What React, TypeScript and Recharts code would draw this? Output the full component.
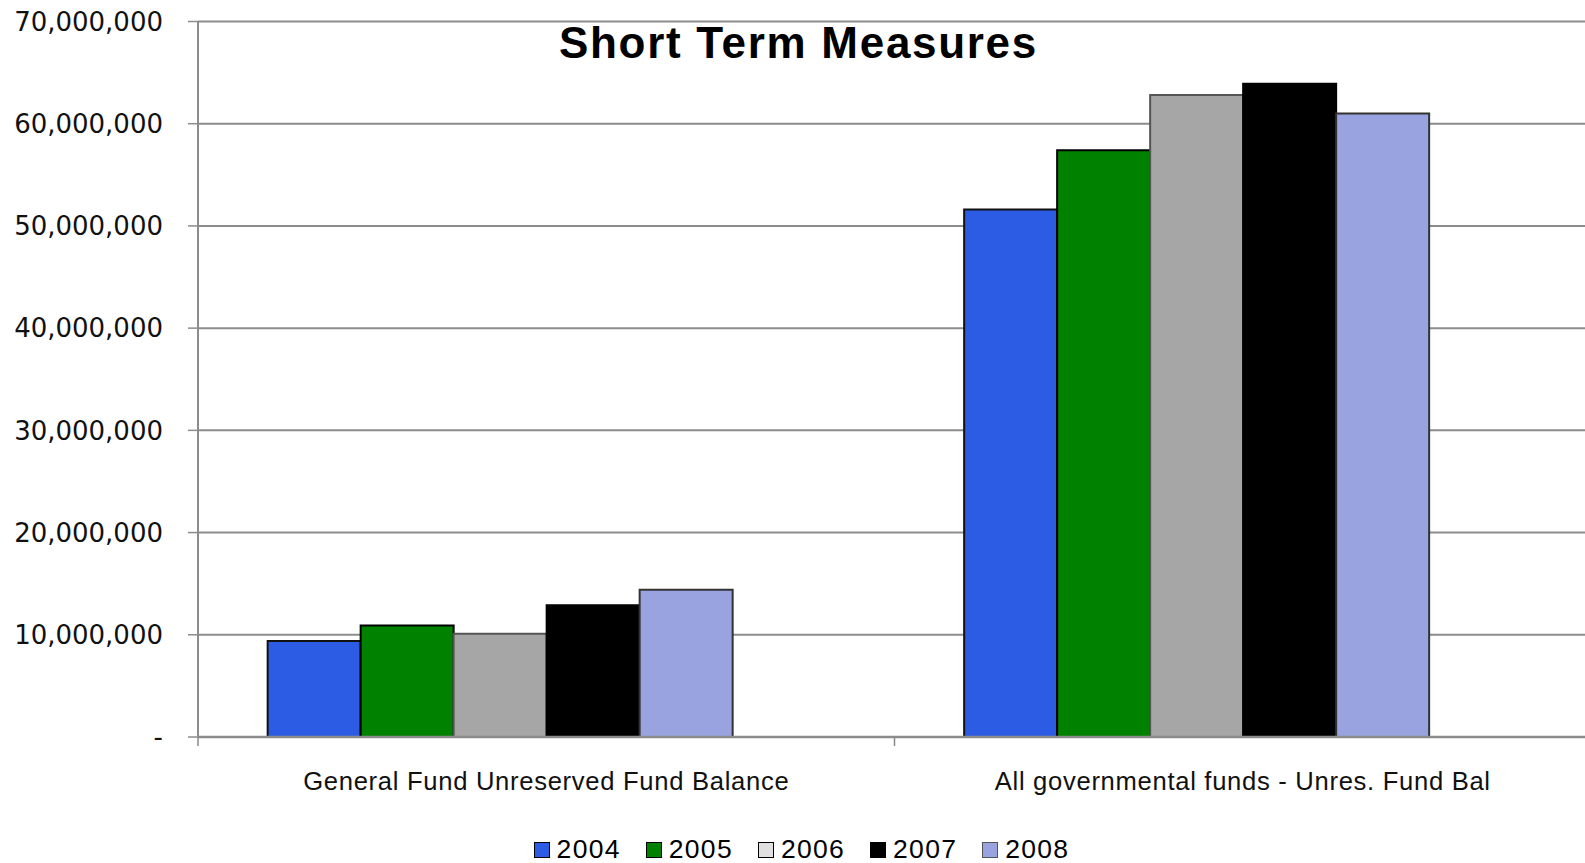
import { BarChart, Bar, XAxis, YAxis, CartesianGrid, Legend } from "recharts";

const categories = [
  "General Fund Unreserved Fund Balance",
  "All governmental funds - Unres. Fund Bal",
];
const years = ["2004", "2005", "2006", "2007", "2008"];
const v2004 = [9400000, 51600000];
const v2005 = [10900000, 57400000];
const v2006 = [10100000, 62800000];
const v2007 = [12900000, 63900000];
const v2008 = [14400000, 61000000];
const yTicks = [0, 10000000, 20000000, 30000000, 40000000, 50000000, 60000000, 70000000];

const fills = ["#2C5CE4", "#008200", "#A6A6A6", "#000000", "#99A3E0"];
const strokes = ["#111111", "#000000", "#555555", "#000000", "#333333"];
const swatches = ["#2C5CE4", "#008200", "#E0E0E0", "#000000", "#99A3E0"];

const W = 1585;
const H = 863;
const M = { top: 21.5, right: -6, bottom: 66, left: 0 };
const Y_W = 198;
const halfBand = (W - M.left - M.right - Y_W) / categories.length / 2;

const series = [v2004, v2005, v2006, v2007, v2008];
const data = categories.map((name, i) => {
  const row: any = { name };
  years.forEach((y, j) => {
    row[y] = series[j][i];
  });
  return row;
});

function CatTick(props: any) {
  const { x, y, payload, index } = props;
  return (
    <g>
      <line x1={x - halfBand} x2={x - halfBand} y1={y} y2={y + 9} stroke="#888" strokeWidth={1.5} />
      {index === categories.length - 1 && (
        <line x1={x + halfBand} x2={x + halfBand} y1={y} y2={y + 9} stroke="#888" strokeWidth={1.5} />
      )}
      <text
        x={x}
        y={y + 53}
        textAnchor="middle"
        fill="#111"
        style={{ fontFamily: "Liberation Sans, Arial, sans-serif", fontSize: 25.6, letterSpacing: 0.7 }}
      >
        {payload.value}
      </text>
    </g>
  );
}

function LegendBox() {
  return (
    <div
      style={{
        display: "flex",
        justifyContent: "center",
        alignItems: "center",
        marginLeft: 18,
        gap: 25,
        fontFamily: "Liberation Sans, Arial, sans-serif",
        fontSize: 26.5,
        letterSpacing: 1.3,
        color: "#000",
      }}
    >
      {years.map((y, i) => (
        <div key={y} style={{ display: "flex", alignItems: "center", gap: 7 }}>
          <span
            style={{
              display: "inline-block",
              width: 14,
              height: 14,
              background: swatches[i],
              border: "1.5px solid " + (i === 4 ? "#555" : "#000"),
            }}
          />
          <span>{y}</span>
        </div>
      ))}
    </div>
  );
}

export default function App() {
  return (
    <div style={{ position: "absolute", top: 0, left: 0, width: W, height: H, background: "#fff", overflow: "hidden" }}>
      <BarChart
        width={W}
        height={H}
        data={data}
        margin={M}
        barCategoryGap="10%"
        barGap={0}
      >
        <CartesianGrid vertical={false} stroke="#8c8c8c" strokeWidth={2} />
        <XAxis
          dataKey="name"
          tick={<CatTick />}
          tickLine={false}
          tickSize={0}
          tickMargin={0}
          height={60}
          axisLine={{ stroke: "#8c8c8c", strokeWidth: 2.5 }}
          interval={0}
        />
        <YAxis
          width={Y_W}
          domain={[0, 70000000]}
          ticks={yTicks}
          interval={0}
          tickFormatter={(v: number) => (v === 0 ? "-" : v.toLocaleString("en-US"))}
          tickSize={10}
          tickMargin={25}
          tickLine={{ stroke: "#8c8c8c", strokeWidth: 1.5 }}
          axisLine={{ stroke: "#8c8c8c", strokeWidth: 2 }}
          tick={{ fill: "#111", fontSize: 26, fontFamily: "DejaVu Sans, sans-serif" }}
        />
        <Legend
          verticalAlign="middle"
          align="center"
          layout="horizontal"
          content={() => <LegendBox />}
          wrapperStyle={{ position: "absolute", top: 834, left: 0, width: W }}
        />
        {years.map((y, i) => (
          <Bar
            key={y}
            dataKey={y}
            fill={fills[i]}
            stroke={strokes[i]}
            strokeWidth={2}
            isAnimationActive={false}
          />
        ))}
        <Bar dataKey="spacer" legendType="none" fill="none" isAnimationActive={false} />
      </BarChart>
      <div
        style={{
          position: "absolute",
          left: 559,
          top: 21,
          lineHeight: "44px",
          fontFamily: "Liberation Sans, Arial, sans-serif",
          fontWeight: "bold",
          fontSize: 44,
          letterSpacing: 1.7,
          color: "#000",
          whiteSpace: "nowrap",
        }}
      >
        Short Term Measures
      </div>
    </div>
  );
}
